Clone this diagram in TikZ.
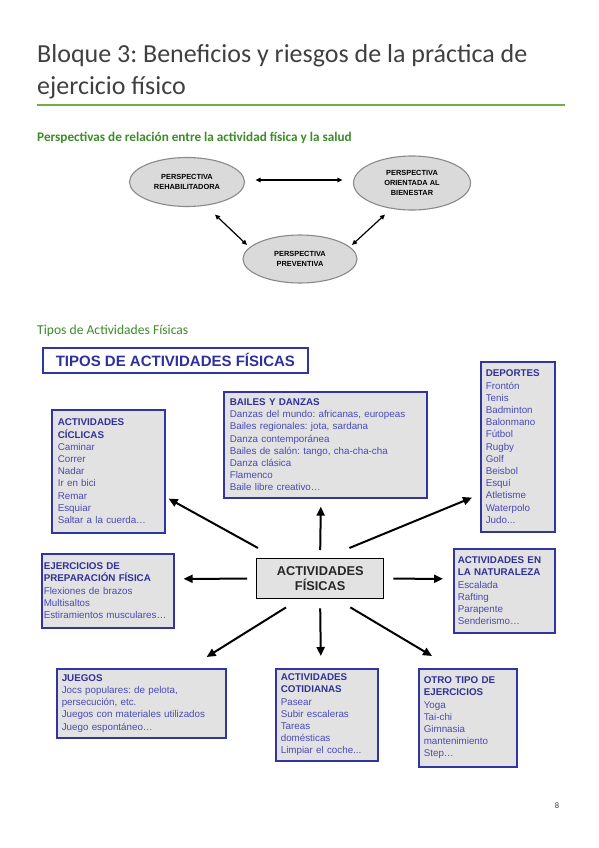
\documentclass[tikz,border=0pt]{standalone}
\usepackage{fontspec}
\setmainfont{Carlito}
\newfontfamily\arial{Liberation Sans}
\usetikzlibrary{arrows.meta,shapes.geometric}
\definecolor{titlegray}{HTML}{404040}
\definecolor{rulegreen}{HTML}{70AD47}
\definecolor{headgreen}{HTML}{3C8C28}
\definecolor{bblue}{HTML}{3434A0}
\definecolor{tblue}{HTML}{4A4AB6}
\definecolor{hblue}{HTML}{30309A}
\definecolor{bgray}{HTML}{E2E2E2}
\definecolor{egray}{HTML}{DADADA}
\definecolor{eline}{HTML}{8A8A8A}
\newcommand\hd[1]{{\bfseries\color{hblue}#1}}
\frenchspacing
\begin{document}
\begin{tikzpicture}[x=1pt,y=-1pt,
  pagetitle/.style={anchor=base west,inner sep=0pt,font=\fontsize{26}{32}\selectfont,text=titlegray},
  subhead/.style={anchor=base west,inner sep=0pt,font=\fontsize{13.6}{16}\selectfont,text=headgreen},
  persp/.style={ellipse,draw=eline,line width=1.1pt,fill=egray,minimum width=115pt,minimum height=49pt,
    font=\arial\bfseries\fontsize{7.4}{9.8}\selectfont,align=center,inner sep=0pt},
  actbox/.style={draw=bblue,line width=1.6pt,fill=bgray,anchor=north west,align=left,
    inner xsep=6pt,inner ysep=3pt,font=\arial\fontsize{9.8}{12.2}\selectfont,text=tblue},
  bigarrow/.style={-{Triangle[length=9pt,width=8pt]},line width=2pt},
  smallarrow/.style={{Triangle[length=5pt,width=4.5pt]}-{Triangle[length=5pt,width=4.5pt]},line width=1.2pt}
]
\useasboundingbox[fill=white] (0,0) rectangle (599,848);

% header
\node[pagetitle] (t1) at (37,62.5) {Bloque 3: Beneficios y riesgos de la práctica de};
\node[pagetitle] (t2) at (37,95) {ejercicio físico};
\draw[rulegreen,line width=1.1pt] (37,105) -- (565,105);

\node[subhead,font=\bfseries\fontsize{13.2}{16}\selectfont] (s1) at (37,142) {Perspectivas de relación entre la actividad física y la salud};

% perspectives
\node[persp] (L) at (187,182) {PERSPECTIVA\\REHABILITADORA};
\node[persp,minimum width=117pt,minimum height=54pt] (R) at (412,183) {PERSPECTIVA\\ORIENTADA AL\\BIENESTAR};
\node[persp,minimum width=114pt,minimum height=48pt] (P) at (300,259) {PERSPECTIVA\\PREVENTIVA};
\draw[smallarrow] ([shift={(10.5,-2)}]L.east) -- ([shift={(-10.5,-3)}]R.west);
\draw[smallarrow] ([shift={(28,7.5)}]L.south) -- ([shift={(-53,10.5)}]P.north);
\draw[smallarrow] ([shift={(-27,4)}]R.south) -- ([shift={(52,10.5)}]P.north);

\node[subhead] (s2) at (37,334) {Tipos de Actividades Físicas};

% activity types
\node[draw=bblue,line width=1.8pt,fill=white,anchor=north west,minimum width=265pt,minimum height=25pt,
  inner sep=0pt,font=\arial\bfseries\fontsize{15}{17}\selectfont,text=hblue] (tb) at (42,347) {TIPOS DE ACTIVIDADES FÍSICAS};

\node[draw=black,line width=1.4pt,fill=bgray,anchor=north west,minimum width=127pt,minimum height=40pt,
  inner sep=0pt,align=center,font=\arial\bfseries\fontsize{12.8}{14.7}\selectfont,text=black!85] (c) at (256,558) {ACTIVIDADES\\FÍSICAS};

\node[actbox,minimum width=113pt,minimum height=123pt,text width=101pt] (cic) at (51,409)
 {\hd{ACTIVIDADES}\\\hd{CÍCLICAS}\\Caminar\\Correr\\Nadar\\Ir en bici\\Remar\\Esquiar\\Saltar a la cuerda\dots};
\node[actbox,minimum width=203pt,minimum height=106pt,text width=191pt] (bai) at (223,391)
 {\hd{BAILES Y DANZAS}\\Danzas del mundo: africanas, europeas\\Bailes regionales: jota, sardana\\Danza contemporánea\\Bailes de salón: tango, cha-cha-cha\\Danza clásica\\Flamenco\\Baile libre creativo\dots};
\node[actbox,minimum width=74pt,minimum height=170pt,text width=64pt,inner xsep=5pt] (dep) at (480,361)
 {\hd{DEPORTES}\\Frontón\\Tenis\\Badminton\\Balonmano\\Fútbol\\Rugby\\Golf\\Beisbol\\Esquí\\Atletisme\\Waterpolo\\Judo...};
\node[actbox,minimum width=132pt,minimum height=74pt,text width=128pt,inner xsep=2pt] (eje) at (41,553)
 {\hd{EJERCICIOS DE}\\\hd{PREPARACIÓN FÍSICA}\\Flexiones de brazos\\Multisaltos\\Estiramientos musculares\dots};
\node[actbox,minimum width=101pt,minimum height=84pt,text width=93pt,inner xsep=4pt] (nat) at (453,548)
 {\hd{ACTIVIDADES EN}\\\hd{LA NATURALEZA}\\Escalada\\Rafting\\Parapente\\Senderismo\dots};
\node[actbox,minimum width=169pt,minimum height=69pt,text width=159pt,inner xsep=5pt] (jue) at (56,668)
 {\hd{JUEGOS}\\Jocs populares: de pelota,\\persecución, etc.\\Juegos con materiales utilizados\\Juego espontáneo\dots};
\node[actbox,minimum width=102pt,minimum height=92pt,text width=92pt,inner xsep=5pt] (cot) at (275,668)
 {\hd{ACTIVIDADES}\\\hd{COTIDIANAS}\\Pasear\\Subir escaleras\\Tareas\\domésticas\\Limpiar el coche...};
\node[actbox,minimum width=98pt,minimum height=98pt,text width=88pt,inner xsep=5pt] (otr) at (418,668)
 {\hd{OTRO TIPO DE}\\\hd{EJERCICIOS}\\Yoga\\Tai-chi\\Gimnasia\\mantenimiento\\Step\dots};

% arrows from the centre
\draw[bigarrow] ([shift={(2,-10)}]c.north west) -- ([shift={(3,-35)}]cic.south east);
\draw[bigarrow] ([shift={(0,-8)}]c.north) -- ([shift={(-4.5,8)}]bai.south);
\draw[bigarrow] ([shift={(-35,-10)}]c.north east) -- ([shift={(-8,-35)}]dep.south west);
\draw[bigarrow] ([shift={(-9,0)}]c.west) -- ([shift={(9,-12)}]eje.east);
\draw[bigarrow] ([shift={(9,0)}]c.east) -- ([shift={(-10,-12)}]nat.west);
\draw[bigarrow] ([shift={(30,8)}]c.south west) -- ([shift={(-20,-11)}]jue.north east);
\draw[bigarrow] ([shift={(0,9)}]c.south) -- ([shift={(-6,-12)}]cot.north);
\draw[bigarrow] ([shift={(-34,8)}]c.south east) -- ([shift={(14,-12)}]otr.north west);

\node[anchor=base,inner sep=0pt,font=\fontsize{8.5}{10}\selectfont,text=titlegray] (pg) at (557,808) {8};
\end{tikzpicture}
\end{document}
